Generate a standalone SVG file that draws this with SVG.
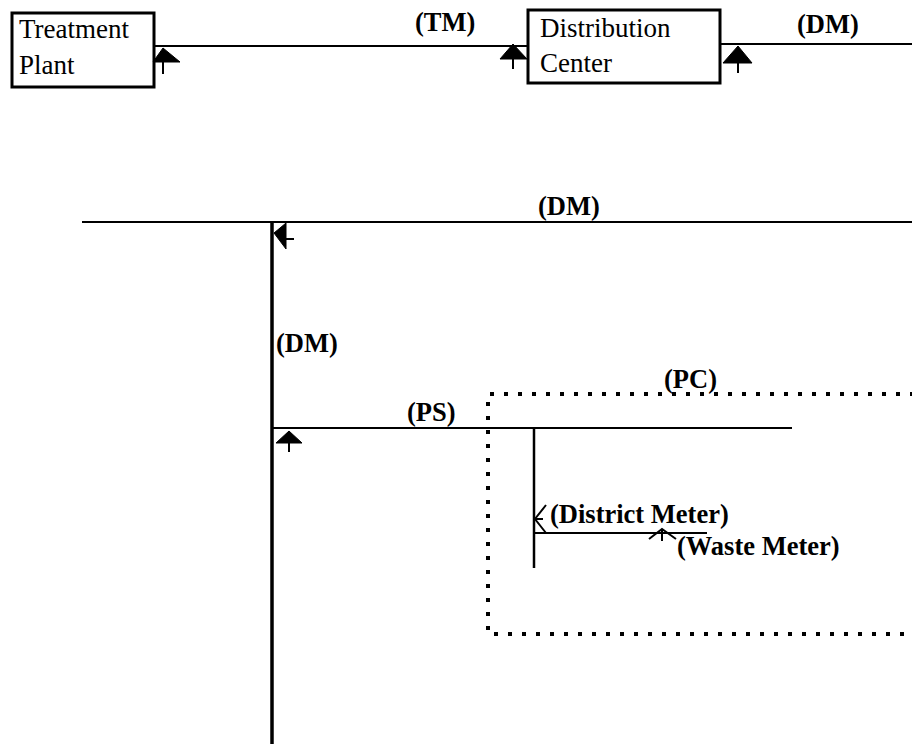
<svg xmlns="http://www.w3.org/2000/svg" width="912" height="744" viewBox="0 0 912 744">
<style>
.box{fill:#fff;stroke:#000;stroke-width:3}
.t{font-family:"Liberation Serif","Times New Roman",serif;font-size:27px;fill:#000}
.lbl{font-family:"Liberation Serif","Times New Roman",serif;font-size:26.5px;font-weight:bold;fill:#000}
.ln{stroke:#000;stroke-width:2;fill:none}
.thick{stroke:#000;stroke-width:3.5;fill:none}
.fa{fill:#000;stroke:#000;stroke-width:1}
.oa{fill:none;stroke:#000;stroke-width:2}
.dot{fill:none;stroke:#000;stroke-width:4;stroke-dasharray:4 10}
</style>
<rect width="912" height="744" fill="#fff"/>
<g id="treatment-plant">
<rect class="box" x="12" y="13" width="142" height="74"/>
<text class="t" x="19" y="38">Treatment</text>
<text class="t" x="19" y="74">Plant</text>
</g>
<g id="distribution-center">
<rect class="box" x="528" y="10" width="192" height="73"/>
<text class="t" x="540" y="37">Distribution</text>
<text class="t" x="540" y="72">Center</text>
</g>
<g id="pc-boundary">
<path class="dot" d="M914,394 H488 V634 H914"/>
<text class="lbl" x="664" y="388">(PC)</text>
</g>
<g id="connectors">
<line class="ln" x1="154" y1="46" x2="528" y2="46"/>
<polygon class="fa" points="163,48 153,62 180,62"/>
<line class="ln" x1="163" y1="62" x2="163" y2="74"/>
<polygon class="fa" points="513,44 500,59 527,59"/>
<line class="ln" x1="513" y1="59" x2="513" y2="69"/>
<text class="lbl" x="415" y="31">(TM)</text>
<line class="ln" x1="720" y1="44" x2="912" y2="44"/>
<polygon class="fa" points="738,46 723,63 752,63"/>
<line class="ln" x1="738" y1="63" x2="738" y2="73"/>
<text class="lbl" x="797" y="33">(DM)</text>
<line class="ln" x1="82" y1="222" x2="912" y2="222"/>
<text class="lbl" x="538" y="215">(DM)</text>
<line class="thick" x1="272" y1="222" x2="272" y2="744"/>
<polygon class="fa" points="274,233 286,223 286,249"/>
<line class="ln" x1="286" y1="239" x2="294" y2="239"/>
<text class="lbl" x="276" y="352">(DM)</text>
<line class="ln" x1="272" y1="428" x2="792" y2="428"/>
<polygon class="fa" points="289,431 276,443 302,443"/>
<line class="ln" x1="289" y1="443" x2="289" y2="452"/>
<text class="lbl" x="407" y="421">(PS)</text>
<line class="ln" style="stroke-width:2.5" x1="534" y1="428" x2="534" y2="568"/>
<line class="ln" x1="534" y1="533" x2="707" y2="533"/>
<polyline class="oa" points="546,505 535,519 546,533"/>
<line class="ln" x1="535" y1="519" x2="543" y2="519"/>
<text class="lbl" x="550" y="523">(District Meter)</text>
<polyline class="oa" points="649,539 662,529 676,539"/>
<line class="ln" x1="662" y1="529" x2="662" y2="541"/>
<text class="lbl" x="677" y="555">(Waste Meter)</text>
</g>
</svg>
